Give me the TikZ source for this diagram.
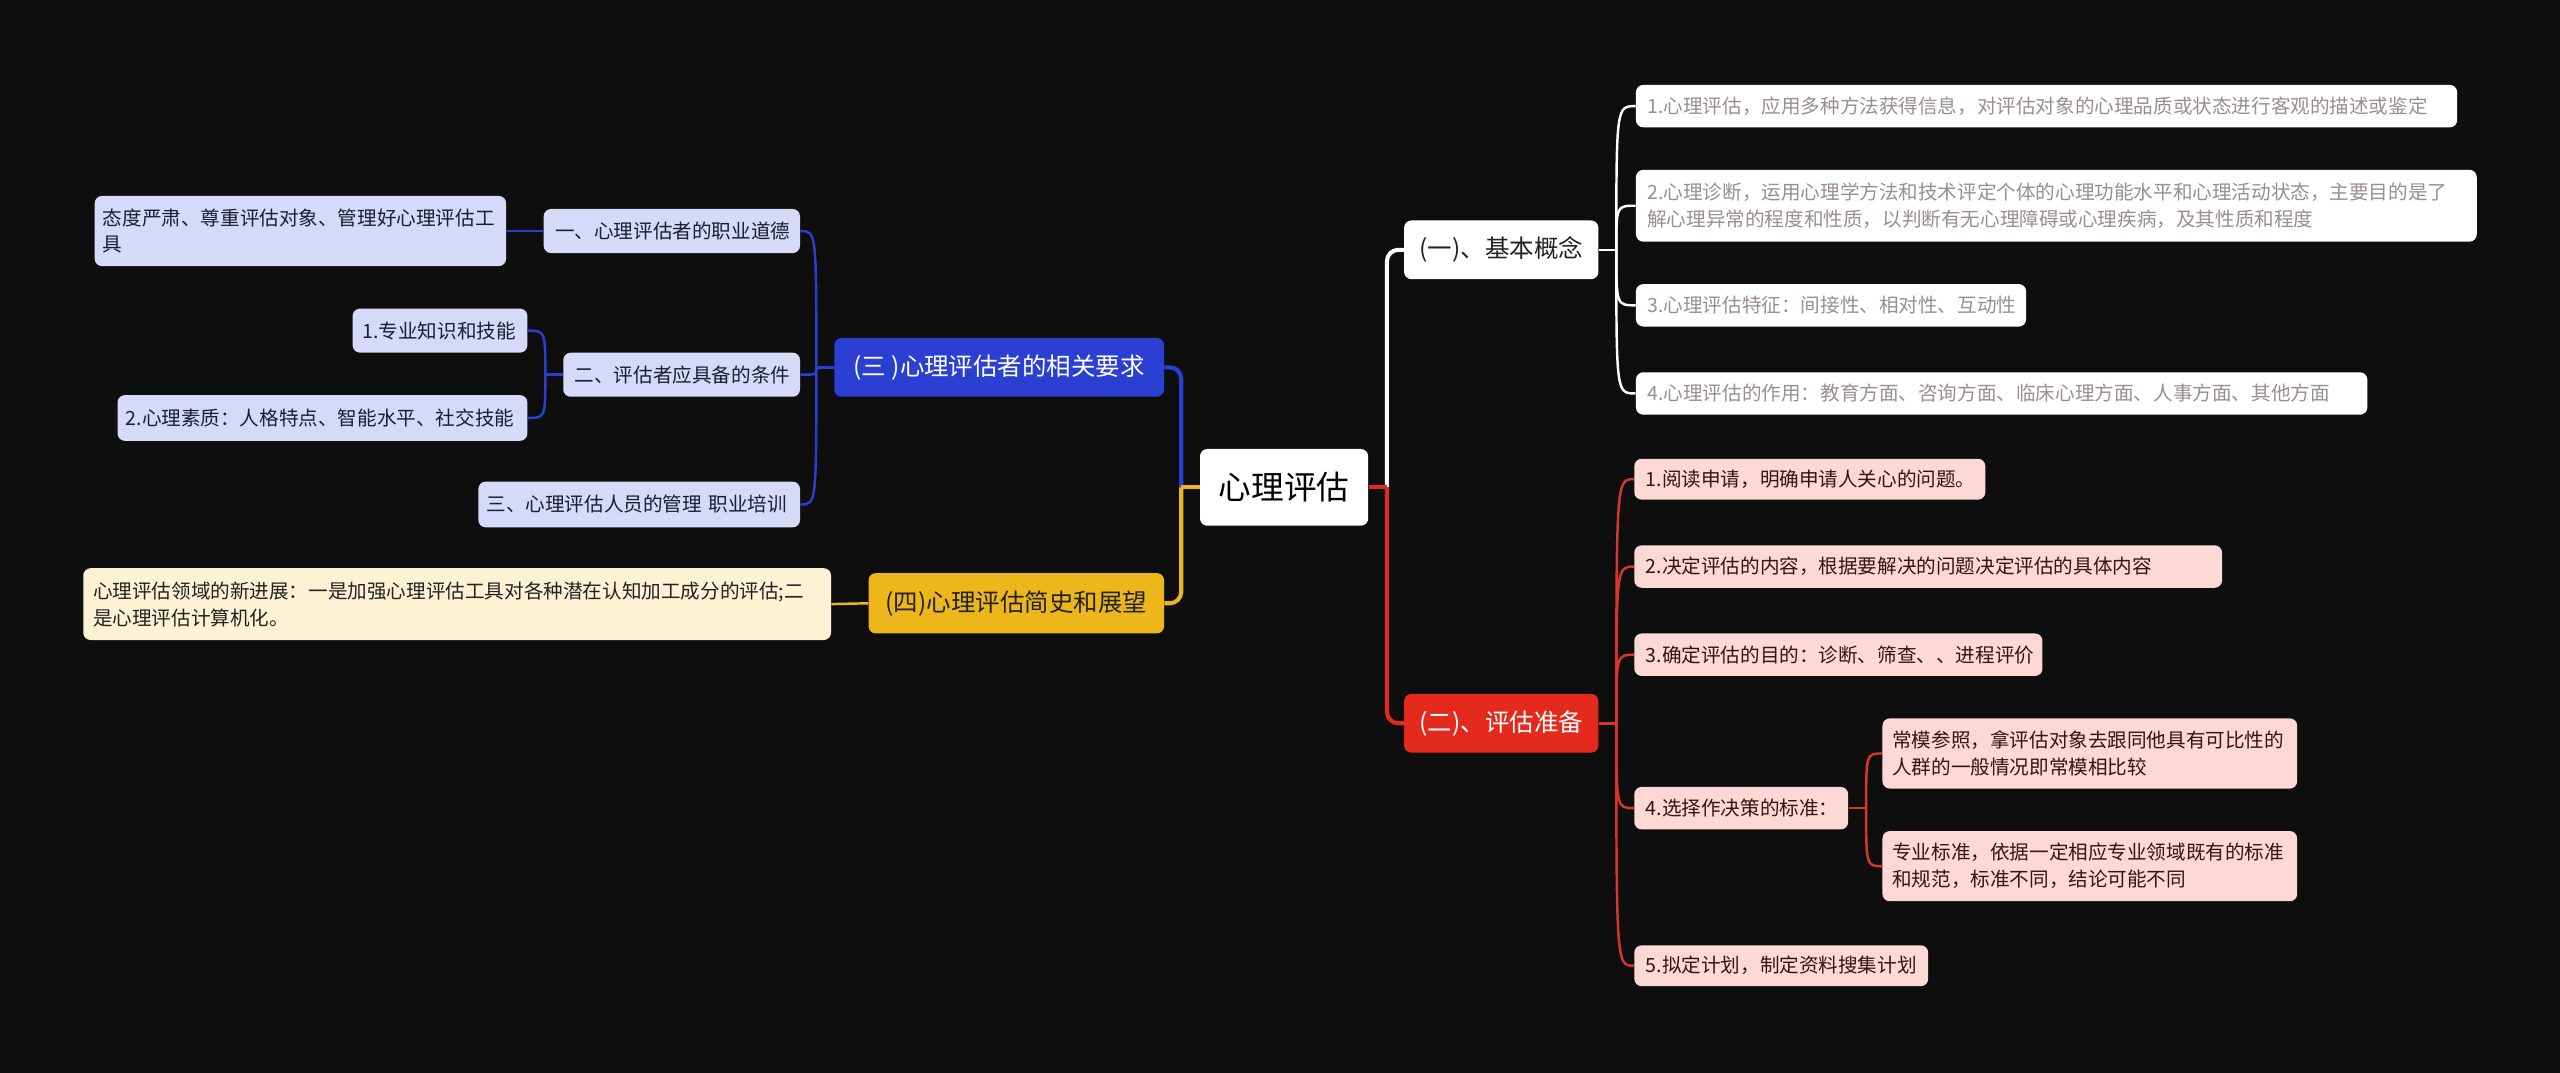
\documentclass[tikz,border=0pt]{standalone}
\usepackage{fontspec}
\setmainfont{Noto Sans CJK SC}
\usetikzlibrary{calc}
\definecolor{bgc}{HTML}{0E0E0E}
\definecolor{redm}{HTML}{E4291D}
\definecolor{bluem}{HTML}{2B40D2}
\definecolor{yelm}{HTML}{EDB71B}
\definecolor{pinkc}{HTML}{FCD9D4}
\definecolor{lavc}{HTML}{D6DAF8}
\definecolor{creamc}{HTML}{FDF2D3}
\definecolor{grayt}{HTML}{9A8E8E}
\definecolor{darkt}{HTML}{222222}
\definecolor{redt}{HTML}{3A1210}
\definecolor{bluet}{HTML}{1C1C34}
\definecolor{redl}{HTML}{D9362A}
\begin{document}
\begin{tikzpicture}[x=1pt,y=-1pt,
  box/.style={rounded corners=4.5pt, inner xsep=7pt, inner ysep=3pt, align=left, anchor=center},
  small/.style={font=\fontsize{12}{16.5}\selectfont},
  mid/.style={font=\fontsize{15}{18}\selectfont},
  wnode/.style={box, small, fill=white, text=grayt},
  rnode/.style={box, small, fill=pinkc, text=redt},
  bnode/.style={box, small, fill=lavc, text=bluet},
  ynode/.style={box, small, fill=creamc, text=darkt},
  wline/.style={draw=white, line width=2.5pt},
  rline/.style={draw=redm, line width=2.5pt},
  bline/.style={draw=bluem, line width=2.5pt},
  yline/.style={draw=yelm, line width=2.5pt},
  wthin/.style={draw=white, line width=1.5pt},
  rthin/.style={draw=redl, line width=1.5pt},
  bthin/.style={draw=bluem, line width=1.5pt},
  ythin/.style={draw=yelm, line width=1.5pt}
]
\fill[bgc] (0,0) rectangle (1568,657);
\useasboundingbox (0,0) rectangle (1568,657);

% root and main branches
\node[box, fill=white, text=black, font=\fontsize{20}{24}\selectfont, minimum width=103pt, minimum height=47pt, align=center] (root) at (786.5,298.5) {心理评估};
\node[box, mid, fill=white, text=darkt, minimum width=119pt, minimum height=36pt, align=center] (N1) at (919.5,153) {(一)、基本概念};
\node[box, mid, fill=redm, text=white, minimum width=119pt, minimum height=36pt, align=center] (N2) at (919.5,443) {(二)、评估准备};
\node[box, mid, fill=bluem, text=white, minimum width=202pt, minimum height=36pt, align=center] (N3) at (612,225) {(三 )心理评估者的相关要求};
\node[box, mid, fill=yelm, text=darkt, minimum width=181pt, minimum height=37pt, align=center] (N4) at (622.5,369.5) {(四)心理评估简史和展望};

% right white children
\node[wnode, text width=489pt, minimum height=26pt] (a1) at (1253.5,65) {1.心理评估，应用多种方法获得信息，对评估对象的心理品质或状态进行客观的描述或鉴定};
\node[wnode, text width=501pt, minimum height=44pt] (a2) at (1259.5,126) {2.心理诊断，运用心理学方法和技术评定个体的心理功能水平和心理活动状态，主要目的是了\\解心理异常的程度和性质，以判断有无心理障碍或心理疾病，及其性质和程度};
\node[wnode, text width=225pt, minimum height=26pt] (a3) at (1121.5,187) {3.心理评估特征：间接性、相对性、互动性};
\node[wnode, text width=434pt, minimum height=26pt] (a4) at (1226,241) {4.心理评估的作用：教育方面、咨询方面、临床心理方面、人事方面、其他方面};

% red children
\node[rnode, text width=201pt, minimum height=25pt] (b1) at (1108.5,293.5) {1.阅读申请，明确申请人关心的问题。};
\node[rnode, text width=346pt, minimum height=26pt] (b2) at (1181,347) {2.决定评估的内容，根据要解决的问题决定评估的具体内容};
\node[rnode, text width=236pt, minimum height=26pt] (b3) at (1126,401) {3.确定评估的目的：诊断、筛查、、进程评价};
\node[rnode, text width=117pt, minimum height=26pt] (b4) at (1066.5,495) {4.选择作决策的标准：};
\node[rnode, text width=166pt, minimum height=25pt] (b5) at (1091,591.5) {5.拟定计划，制定资料搜集计划};
\node[rnode, text width=242pt, inner xsep=6pt, minimum height=43pt] (b41) at (1280,461.5) {常模参照，拿评估对象去跟同他具有可比性的\\人群的一般情况即常模相比较};
\node[rnode, text width=242pt, inner xsep=6pt, minimum height=43pt] (b42) at (1280,530.5) {专业标准，依据一定相应专业领域既有的标准\\和规范，标准不同，结论可能不同};

% blue children
\node[bnode, text width=143pt, minimum height=27pt] (c1) at (411.5,141.5) {一、心理评估者的职业道德};
\node[bnode, text width=131pt, minimum height=27pt] (c2) at (417.5,229.5) {二、评估者应具备的条件};
\node[bnode, text width=187pt, inner xsep=5pt, minimum height=28pt] (c3) at (391.5,309) {三、心理评估人员的管理~职业培训};
\node[bnode, text width=242pt, inner xsep=5pt, minimum height=43pt] (c11) at (184,141.5) {态度严肃、尊重评估对象、管理好心理评估工\\具};
\node[bnode, text width=95pt, inner xsep=6pt, minimum height=27pt] (c21) at (269.5,202.5) {1.专业知识和技能};
\node[bnode, text width=241pt, inner xsep=5pt, minimum height=28pt] (c22) at (197.5,256) {2.心理素质：人格特点、智能水平、社交技能};

% yellow child
\node[ynode, text width=446pt, inner xsep=6pt, minimum height=44pt] (d1) at (280,370) {心理评估领域的新进展：一是加强心理评估工具对各种潜在认知加工成分的评估;二\\是心理评估计算机化。};

% main connectors
\coordinate (jR) at (849.5,298.5);
\coordinate (jL) at (723.5,298.5);
\draw[wline, rounded corners=7pt] (jR) |- (N1.west);
\draw[rline, rounded corners=7pt] (jR) |- (N2.west);
\draw[rline] (root.east) -- (jR);
\draw[bline, rounded corners=7pt] (jL) |- (N3.east);
\draw[yline, rounded corners=7pt] (jL) |- (N4.east);
\draw[yline] (root.west) -- (jL);

% second level connectors
\coordinate (jA) at (990,153);
\draw[wthin] (N1.east) -- (jA);
\foreach \n in {a1,a2,a3,a4}
  \draw[wthin] (jA) .. controls (jA |- \n.west) and (jA |- \n.west) .. (\n.west);

\coordinate (jB) at (990,443);
\draw[rthin] (N2.east) -- (jB);
\foreach \n in {b1,b2,b3,b4,b5}
  \draw[rthin] (jB) .. controls (jB |- \n.west) and (jB |- \n.west) .. (\n.west);

\coordinate (jB4) at (1143,495);
\draw[rthin] (b4.east) -- (jB4);
\foreach \n in {b41,b42}
  \draw[rthin] (jB4) .. controls (jB4 |- \n.west) and (jB4 |- \n.west) .. (\n.west);

\coordinate (jC) at (500,225);
\draw[bthin] (N3.west) -- (jC);
\foreach \n in {c1,c2,c3}
  \draw[bthin] (jC) .. controls (jC |- \n.east) and (jC |- \n.east) .. (\n.east);

\draw[bthin] (c1.west) -- (c11.east);

\coordinate (jC2) at (334,229.5);
\draw[bthin] (c2.west) -- (jC2);
\foreach \n in {c21,c22}
  \draw[bthin] (jC2) .. controls (jC2 |- \n.east) and (jC2 |- \n.east) .. (\n.east);

\draw[ythin] (N4.west) -- (d1.east);
\end{tikzpicture}
\end{document}
